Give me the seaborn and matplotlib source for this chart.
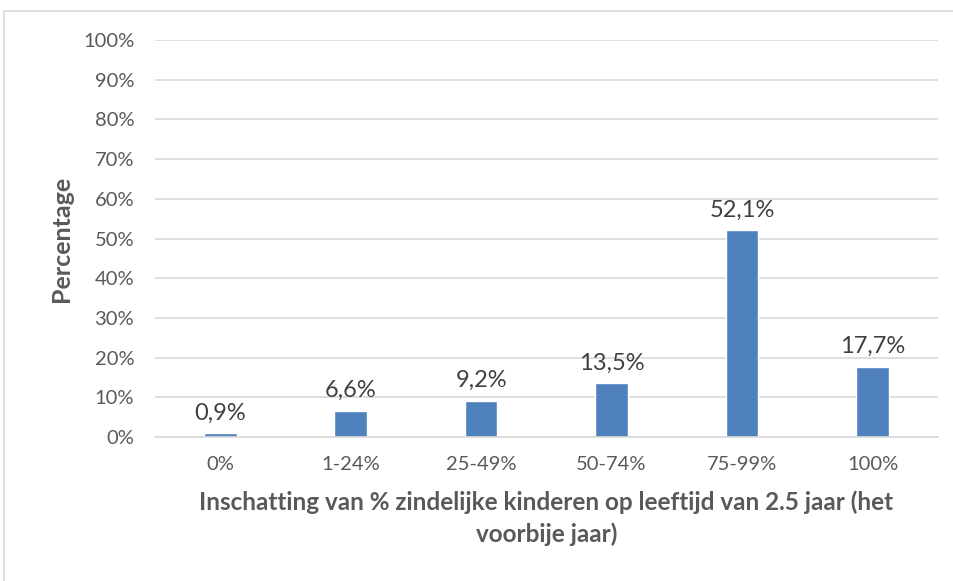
import matplotlib
matplotlib.use("Agg")
import matplotlib.pyplot as plt
import seaborn as sns
import pandas as pd
from matplotlib.patches import Rectangle

categorieen = ["0%", "1-24%", "25-49%", "50-74%", "75-99%", "100%"]
percentages = [0.9, 6.6, 9.2, 13.5, 52.1, 17.7]
y_ticks = list(range(0, 101, 10))

df = pd.DataFrame({"Categorie": categorieen, "Percentage": percentages})

sns.set_theme(style="white")
plt.rcParams["font.family"] = ["Lato", "DejaVu Sans"]

fig = plt.figure(figsize=(9.54, 5.81), dpi=100)
ax = fig.add_axes([0.1625, 0.2478, 0.8205, 0.6832])

sns.barplot(data=df, x="Categorie", y="Percentage", color="#4F81BD",
            width=0.25, saturation=1, ax=ax)

ax.set_ylim(0, 100)
ax.set_yticks(y_ticks)
ax.set_yticklabels([f"{t}%" for t in y_ticks])
ax.yaxis.grid(True, color="#D9D9D9", linewidth=1.2)
ax.set_axisbelow(True)
for s in ["top", "right", "left"]:
    ax.spines[s].set_visible(False)
ax.spines["bottom"].set_color("#D9D9D9")
ax.spines["bottom"].set_linewidth(1.2)
ax.tick_params(axis="both", length=0, labelsize=14.5, colors="#595959")
ax.tick_params(axis="x", pad=14)
ax.tick_params(axis="y", pad=15)

for p, v in zip(ax.patches, percentages):
    ax.annotate(f"{v:.1f}%".replace(".", ","),
                (p.get_x() + p.get_width() / 2, p.get_height()),
                xytext=(0, 7), textcoords="offset points",
                ha="center", va="bottom", fontsize=17, color="#404040")

ax.set_ylabel("Percentage", fontsize=18, fontweight="bold", color="#595959", labelpad=7)
ax.set_xlabel("Inschatting van % zindelijke kinderen op leeftijd van 2.5 jaar (het\nvoorbije jaar)",
              fontsize=17.5, fontweight="bold", color="#595959", labelpad=12, linespacing=1.45)

fig.patches.append(Rectangle((4 / 954, -0.1), 1.2, 1 - 11 / 581 + 0.1,
                             transform=fig.transFigure, fill=False,
                             edgecolor="#D9D9D9", linewidth=1.2))

fig.savefig("out.png", dpi=100)
